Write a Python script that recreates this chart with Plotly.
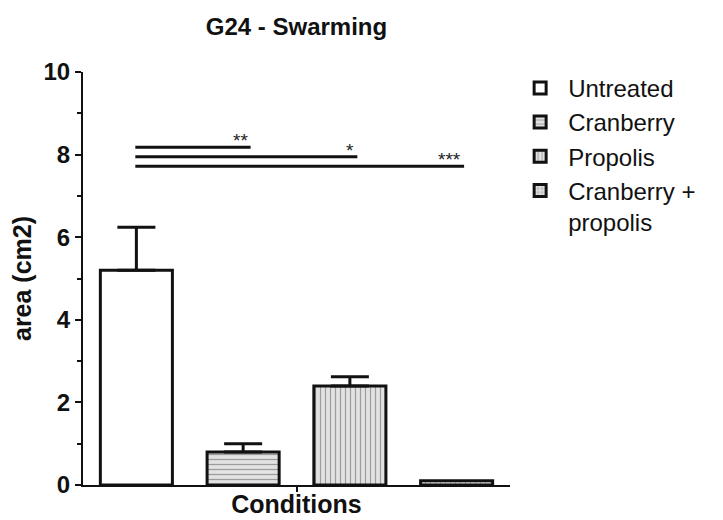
import plotly.graph_objects as go

# ---- data ----
conditions = ["Untreated", "Cranberry", "Propolis", "Cranberry +<br>propolis"]
means = [5.2, 0.8, 2.4, 0.1]
sem = [1.04, 0.2, 0.22, 0.0]
# significance comparisons: (from index, to index, y level, label)
sig_from = [0, 0, 0]
sig_to = [1, 2, 3]
sig_y = [8.18, 7.95, 7.72]
sig_labels = ["**", "*", "***"]
y_ticks = [0, 2, 4, 6, 8, 10]

patterns = ["", "-", "|", "+"]
bgcols = ["white", "#e2e2e2", "#e2e2e2", "#e2e2e2"]

FONT = "Liberation Sans, Arial, sans-serif"
BAR_W = 0.675
W, H = 715, 512  # page body has an 8px default margin

fig = go.Figure()
for i, name in enumerate(conditions):
    err = None
    if sem[i] > 0:
        err = dict(type="data", array=[sem[i]], arrayminus=[0], symmetric=False,
                   thickness=3, width=19, color="#111")
    fig.add_trace(go.Bar(
        x=[i], y=[means[i]], name=name, width=BAR_W,
        marker=dict(color=bgcols[i], line=dict(color="#111", width=3),
                    pattern=dict(shape=patterns[i], fgcolor="#555", bgcolor=bgcols[i],
                                 size=5, solidity=0.25)),
        error_y=err,
    ))

for a, b, yv, lab in zip(sig_from, sig_to, sig_y, sig_labels):
    fig.add_shape(type="line", xref="x", yref="y", x0=a - 0.01, x1=b + 0.07, y0=yv, y1=yv,
                  line=dict(color="#111", width=3))
    fig.add_annotation(x=b + 0.06, y=yv, xref="x", yref="y", text=lab, showarrow=False,
                       xanchor="right", yanchor="bottom", yshift=-6,
                       font=dict(family=FONT, size=19, color="#222"))

fig.update_layout(
    width=W, height=H,
    margin=dict(l=75, r=213, t=64, b=35),
    paper_bgcolor="white", plot_bgcolor="white",
    barmode="overlay",
    title=dict(text="G24 - Swarming", x=0.5, xref="paper", xanchor="center",
               y=1 - 19 / H, yref="container", yanchor="middle",
               font=dict(family=FONT, size=24, color="#111", weight="bold")),
    legend=dict(x=1.005, y=1.015, xanchor="left", yanchor="top", valign="top",
                itemwidth=46,
                font=dict(family=FONT, size=24, color="#111"),
                tracegroupgap=0, bgcolor="rgba(0,0,0,0)"),
    showlegend=True,
)
fig.update_xaxes(range=[-0.5, 3.5], showline=True, linecolor="#111", linewidth=2,
                 tickvals=[1.5], ticktext=[""], ticks="outside", ticklen=5, tickwidth=2,
                 tickcolor="#111", showgrid=False, zeroline=False, automargin=False,
                 title=dict(text="Conditions", standoff=2,
                            font=dict(family=FONT, size=25, color="#111", weight="bold")))
fig.update_yaxes(range=[0, 10], showline=True, linecolor="#111", linewidth=2,
                 tickvals=y_ticks, ticks="outside", ticklen=6, tickwidth=2, tickcolor="#111",
                 minor=dict(dtick=1, ticks="outside", ticklen=4, tickwidth=2, tickcolor="#111"),
                 showgrid=False, zeroline=False, automargin=False,
                 tickfont=dict(family=FONT, size=24, color="#111", weight="bold"),
                 title=dict(text="area (cm2)", standoff=8,
                            font=dict(family=FONT, size=25, color="#111", weight="bold")))

fig.write_html("out.html")
